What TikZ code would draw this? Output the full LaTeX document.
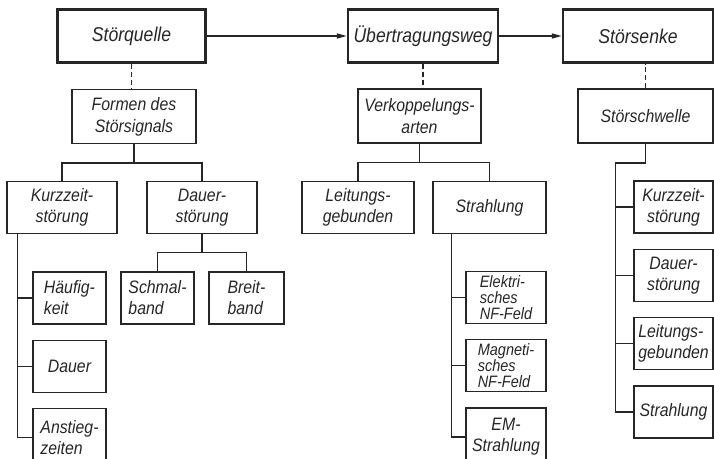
\documentclass[tikz,border=0pt]{standalone}
\usepackage{fontspec}
\setmainfont{Liberation Sans}[FakeStretch=0.88]
\usetikzlibrary{positioning,arrows.meta}
\definecolor{ink}{gray}{0.15}
\tikzset{
  topbox/.style={draw=ink, line width=2.4pt, align=center, text=ink,
                 font=\itshape\fontsize{20}{23}\selectfont,
                 minimum width=148pt, minimum height=53pt, inner sep=2pt},
  midbox/.style={draw=ink, line width=1.8pt, align=center, text=ink,
                 font=\itshape\fontsize{18}{22}\selectfont,
                 minimum height=54pt, inner sep=2pt},
  blk/.style={draw=ink, line width=1.3pt, align=center, text=ink,
              font=\itshape\fontsize{18}{21}\selectfont,
              minimum height=52pt, inner sep=2pt},
  leaf/.style={blk, align=left},
  tight/.style={font=\itshape\fontsize{16.5}{16}\selectfont, inner sep=1pt},
  link/.style={draw=ink, line width=1.3pt},
  dlink/.style={draw=ink, line width=1.9pt, dash pattern=on 5pt off 3pt},
  flow/.style={draw=ink, -{Triangle[length=10pt,width=5pt]}, line width=1.6pt},
}
\begin{document}
\begin{tikzpicture}[x=1pt, y=-1pt]
    \useasboundingbox (0,0) rectangle (714,458);
    \clip (0,0) rectangle (714,458);
    \node[topbox] (quelle) at (131.5,36) {Störquelle};
    \node[topbox, minimum width=150pt] (weg) at (423,36) {Übertragungsweg};
    \node[topbox, minimum width=150pt] (senke) at (638,36) {Störsenke};
    \node[midbox, minimum width=124pt] (formen) at (134,116.5) {Formen des\\Störsignals};
    \node[midbox, minimum width=123pt] (verk) at (419.5,116) {Verkoppelungs-\\arten};
    \node[midbox, minimum width=135pt] (schwelle) at (645.5,116) {Störschwelle};
    \node[blk, minimum width=110pt] (kurz) at (62,207.5) {Kurzzeit-\\störung};
    \node[blk, minimum width=110pt] (dauerst) at (202,207.5) {Dauer-\\störung};
    \node[blk, minimum width=112pt] (leit) at (358,207.5) {Leitungs-\\gebunden};
    \node[blk, minimum width=113pt] (strahl) at (489.5,207.5) {Strahlung};
    \node[leaf, minimum width=73pt] (schmal) at (157.5,298) {Schmal-\\band};
    \node[leaf, minimum width=75pt] (breit) at (246.5,298) {Breit-\\band};
    \node[leaf, minimum width=73pt] (haeufig) at (69.5,298) {Häufig-\\keit};
    \node[leaf, minimum width=73pt, below=15pt of haeufig] (dauer) {Dauer};
    \node[leaf, minimum width=73pt, minimum height=58pt, below=15pt of dauer] (anstieg) {Anstieg-\\zeiten};
    \node[leaf, tight, minimum width=80pt] (elektr) at (506,297.5) {Elektri-\\sches\\NF-Feld};
    \node[leaf, tight, minimum width=80pt, below=15pt of elektr] (magnet) {Magneti-\\sches\\NF-Feld};
    \node[blk, minimum width=80pt, minimum height=58pt, below=15pt of magnet] (em) {EM-\\Strahlung};
    \node[blk, minimum width=79pt] (skurz) at (673.5,207) {Kurzzeit-\\störung};
    \node[blk, minimum width=79pt, below=15pt of skurz] (sdauer) {Dauer-\\störung};
    \node[leaf, minimum width=79pt, below=15pt of sdauer] (sleit) {Leitungs-\\gebunden};
    \node[blk, minimum width=79pt, below=15pt of sleit] (sstrahl) {Strahlung};
    \foreach \a/\b in {quelle/weg, weg/senke}
      \draw[flow] (\a) -- (\b);
    \foreach \a/\b in {quelle/formen, weg/verk}
      \draw[dlink] (\a.south) -- (\a.south |- \b.north);
    \draw[dlink] (schwelle.north) -- (schwelle.north |- senke.south);
    \foreach \a/\b/\c in {formen/kurz/dauerst, verk/leit/strahl, dauerst/schmal/breit}
      \draw[link] (\a.south) -- ++(0,18.5) coordinate (bar)
        (\b.north) |- (bar) -| (\c.north);
    \coordinate (kt) at ([xshift=11pt]kurz.south west);
    \draw[link] (kt) |- (anstieg.west);
    \foreach \n in {haeufig, dauer}
      \draw[link] (kt |- \n.west) -- (\n.west);
    \coordinate (st) at ([xshift=19pt]strahl.south west);
    \draw[link] (st) |- (em.west);
    \foreach \n in {elektr, magnet}
      \draw[link] (st |- \n.west) -- (\n.west);
    \draw[link] (schwelle.south) -- ++(0,19) -| ([xshift=-18pt]sstrahl.west) -- (sstrahl.west);
    \foreach \n in {skurz, sdauer, sleit}
      \draw[link] (\n.west) -- ++(-18,0);
  \end{tikzpicture}
\end{document}
